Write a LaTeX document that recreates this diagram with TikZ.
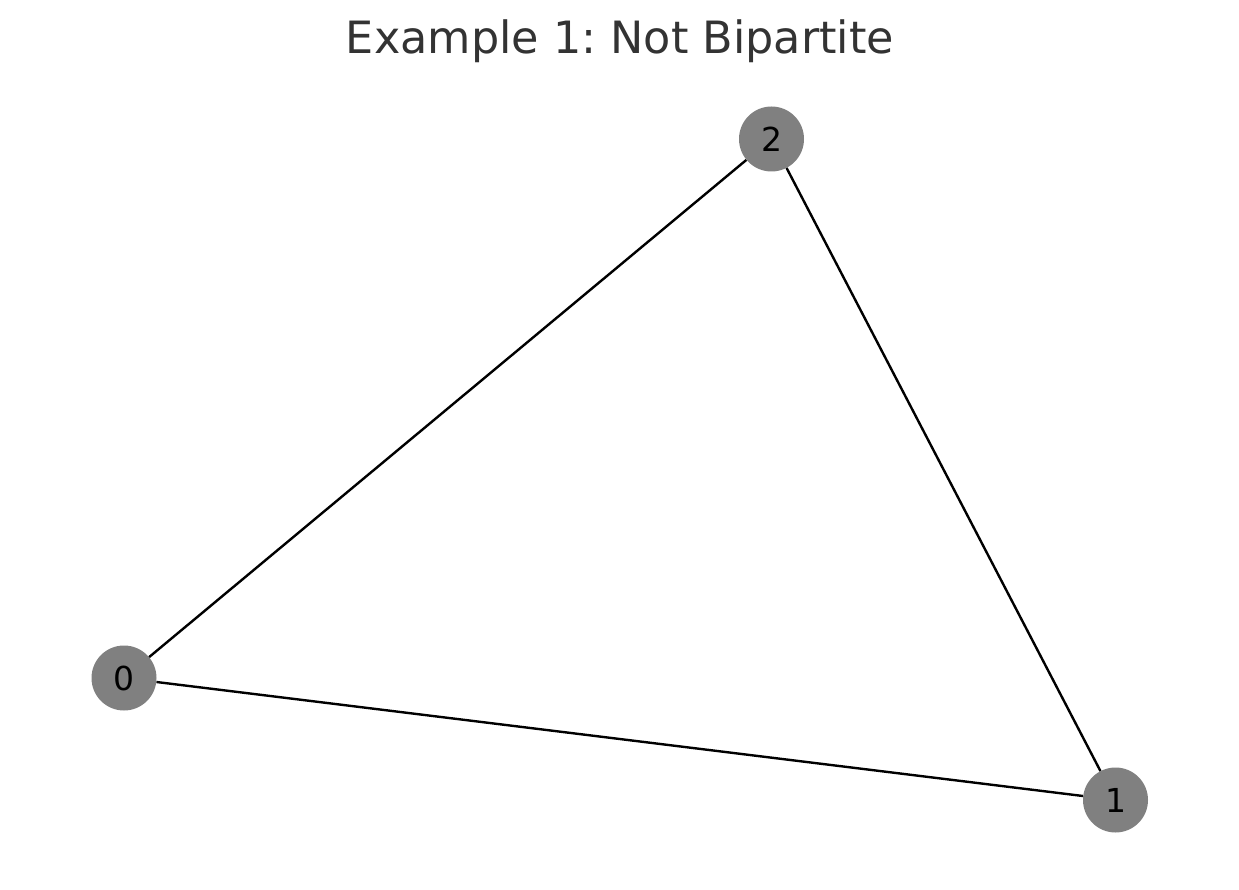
\documentclass[tikz,border=0pt]{standalone}
\usepackage{fontspec}
\setmainfont{DejaVu Sans}
\definecolor{nodegray}{HTML}{808080}
\definecolor{titlegray}{HTML}{333333}
\tikzset{
  vertex/.style={circle, fill=nodegray, draw=none, minimum size=65pt, inner sep=0pt,
    font=\fontsize{33}{36}\selectfont, text=black},
  edgeline/.style={line width=2.4pt, black},
  titletext/.style={font=\fontsize{44.5}{50}\selectfont, text=titlegray}
}
\begin{document}
\frenchspacing
\begin{tikzpicture}[x=1pt,y=-1pt]
\useasboundingbox (0,0) rectangle (1239,890);
\node[titletext] (title) at (620,41) {Example 1: Not Bipartite};
\node[vertex] (n2) at (771.5,139) {2};
\node[vertex] (n0) at (124,678) {0};
\node[vertex] (n1) at (1115.5,800) {1};
\draw[edgeline] (n0) -- (n2);
\draw[edgeline] (n2) -- (n1);
\draw[edgeline] (n0) -- (n1);
\end{tikzpicture}
\end{document}
